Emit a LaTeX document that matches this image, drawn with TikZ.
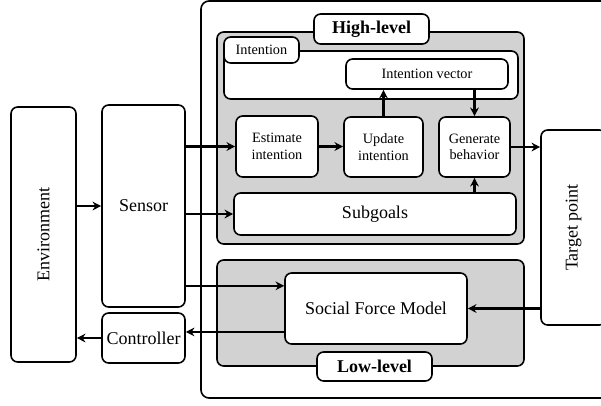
\documentclass[tikz,border=0pt]{standalone}
\usepackage{fontspec}
\setmainfont{Liberation Serif}
\usetikzlibrary{positioning,arrows.meta}

\begin{document}
\begin{tikzpicture}[
    x=0.75pt, y=-0.75pt,
    blk/.style = {draw, line width=1.2pt, rounded corners=5pt, fill=white, align=center, inner sep=0pt},
    big/.style = {font=\fontsize{13.5}{15}\selectfont},
    sml/.style = {font=\fontsize{10.7}{12.5}\selectfont},
    grp/.style = {draw, line width=1.2pt, rounded corners=5pt, fill=gray!35},
    tab/.style = {blk, font=\fontsize{13.5}{15}\selectfont\bfseries},
    arr/.style = {-{Stealth[length=6.5pt, width=6.5pt]}, line width=2pt},
    tarr/.style = {-{Stealth[length=6.5pt, width=6.5pt]}, line width=1.2pt},
  ]
  \useasboundingbox (0,0) rectangle (601,405);
  \clip (0,0) rectangle (601,405);

  % frames
  \draw[line width=1.2pt, rounded corners=6pt] (201,1) rectangle (612,398);
  \draw[grp] (217,32) rectangle (524,244);
  \draw[grp] (217,260) rectangle (524,366);
  \node[tab, minimum width=86.25pt, minimum height=22.5pt] (high) at (371.5,29) {High-level};
  \node[tab, minimum width=86.25pt, minimum height=21.75pt] (low) at (374.5,366.5) {Low-level};

  % left column
  \node[blk, minimum width=48.75pt, minimum height=191.25pt] (env) at (43.5,234.5) {};
  \node[big, rotate=90] (envlbl) at (env) {Environment};
  \node[blk, big, minimum width=62.25pt, minimum height=151.5pt] (sensor) at (143.5,206) {Sensor};
  \node[blk, big, minimum width=62.25pt, minimum height=37.5pt] (ctrl) at (143.5,338) {Controller};

  % high level
  \node[blk, minimum width=220.5pt, minimum height=36pt] (intent) at (371,75) {};
  \node[blk, sml, minimum width=56.25pt, minimum height=19.5pt] (intab) at (261.5,50) {Intention};
  \node[blk, sml, minimum width=121.5pt, minimum height=22.5pt] (ivec) at (427,74) {Intention vector};
  \node[blk, sml, minimum width=61.5pt, minimum height=45.75pt] (est) at (277,146.5) {Estimate\\intention};
  \node[blk, sml, minimum width=59.25pt, minimum height=45pt] (upd) at (383.5,147) {Update\\intention};
  \node[blk, sml, minimum width=53.25pt, minimum height=45pt] (gen) at (474.5,147) {Generate\\behavior};
  \node[blk, big, minimum width=211.5pt, minimum height=31.5pt] (subg) at (375,214) {Subgoals};

  % low level
  \node[blk, big, minimum width=136.5pt, minimum height=53.25pt] (sfm) at (376,308.5) {Social Force Model};

  % target
  \node[blk, minimum width=48.75pt, minimum height=146.25pt] (target) at (573.5,227.5) {};
  \node[big, rotate=90] (tgtlbl) at (target) {Target point};

  % connectors
  \draw[arr] (env.east |- sensor.west) -- (sensor.west);
  \draw[arr] (sensor.east |- est.west) -- (est.west);
  \draw[arr] (sensor.east |- subg.west) -- (subg.west);
  \draw[arr] (est.east) -- (upd.west |- est.east);
  \draw[arr] (upd.north) -- (upd.north |- ivec.south);
  \draw[arr] (gen.north |- ivec.south) -- (gen.north);
  \draw[arr] (gen.south |- subg.north) -- (gen.south);
  \draw[arr] (gen.east) -- (target.west |- gen.east);
  \draw[arr] (target.west |- sfm.east) -- (sfm.east);
  \coordinate (sfmin) at ([yshift=17pt]sfm.west);
  \coordinate (sfmout) at ([yshift=-17.6pt]sfm.west);
  \draw[tarr] (sensor.east |- sfmin) -- (sfmin);
  \draw[tarr] (sfmout) -- (ctrl.east |- sfmout);
  \draw[arr] (ctrl.west) -- (env.east |- ctrl.west);
\end{tikzpicture}
\end{document}
